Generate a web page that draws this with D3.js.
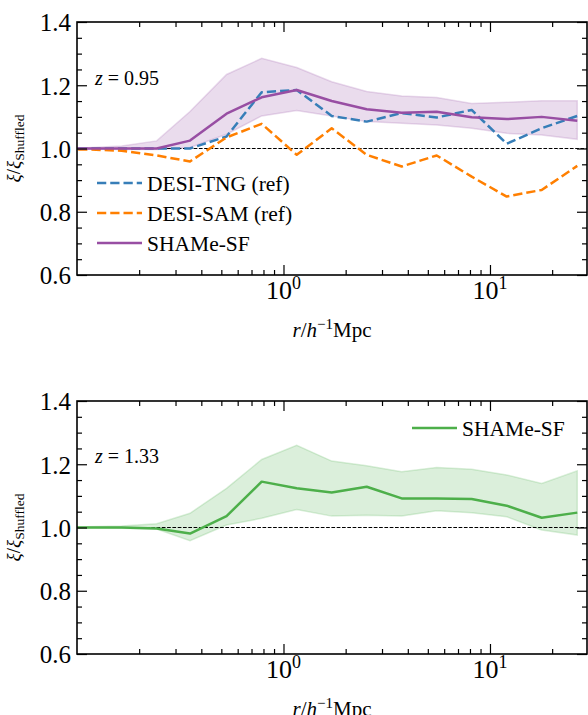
<!DOCTYPE html>
<html>
<head>
<meta charset="utf-8">
<script src="https://cdn.jsdelivr.net/npm/d3@7"></script>
<style>
  html, body { margin: 0; padding: 0; background: #fff; }
  svg { display: block; }
  svg text { font-family: "Liberation Serif", "Times New Roman", "DejaVu Serif", serif; }
</style>
</head>
<body>
<svg id="chart" width="588" height="715"></svg>
<script>
// Separation bins (h^-1 Mpc)
const r = [0.0754, 0.1114, 0.1646, 0.243, 0.3526, 0.530, 0.784, 1.159, 1.712, 2.529, 3.736, 5.521, 8.155, 12.05, 17.80, 26.47];

// z = 0.95 panel
const tng095   = [1.0, 1.0, 1.0, 1.0, 1.0, 1.038, 1.178, 1.185, 1.103, 1.085, 1.112, 1.098, 1.122, 1.015, 1.064, 1.103];
const sam095   = [0.997, 0.997, 0.993, 0.978, 0.959, 1.035, 1.078, 0.98, 1.064, 0.98, 0.943, 0.978, 0.911, 0.848, 0.869, 0.945];
const shame095 = [1.0, 1.0, 1.0, 1.0, 1.025, 1.11, 1.162, 1.185, 1.150, 1.124, 1.113, 1.116, 1.099, 1.093, 1.10, 1.088];
const hi095    = [1.0, 1.002, 1.008, 1.024, 1.117, 1.234, 1.285, 1.256, 1.211, 1.180, 1.166, 1.161, 1.142, 1.146, 1.151, 1.151];
const lo095    = [1.0, 0.998, 0.997, 0.997, 1.003, 1.045, 1.103, 1.12, 1.103, 1.085, 1.08, 1.074, 1.064, 1.048, 1.043, 1.029];

// z = 1.33 panel
const shame133 = [1.0, 1.0, 1.0, 0.997, 0.981, 1.036, 1.145, 1.124, 1.111, 1.129, 1.092, 1.092, 1.09, 1.069, 1.031, 1.047];
const hi133    = [1.0, 1.002, 1.005, 1.012, 1.045, 1.124, 1.215, 1.26, 1.21, 1.195, 1.176, 1.19, 1.184, 1.166, 1.139, 1.179];
const lo133    = [1.0, 0.999, 0.998, 0.995, 0.958, 1.008, 1.029, 1.057, 1.036, 1.039, 1.036, 1.053, 1.047, 1.034, 0.992, 0.976];

// Axis ticks
const yMajor = [0.6, 0.8, 1.0, 1.2, 1.4];
const yMinor = [0.65, 0.7, 0.75, 0.85, 0.9, 0.95, 1.05, 1.1, 1.15, 1.25, 1.3, 1.35];
const xMajor = [1, 10];
const xMinor = [0.2, 0.3, 0.4, 0.5, 0.6, 0.7, 0.8, 0.9, 2, 3, 4, 5, 6, 7, 8, 9, 20];
const xMajorExp = ["0", "1"];

const COLORS = { tng: "#377eb8", sam: "#ff7f00", purple: "#984ea3", green: "#4daf4a" };
const SERIF = "Liberation Serif, Times New Roman, DejaVu Serif, serif";

const svg = d3.select("#chart");
const X0 = 77, X1 = 587;
const x = d3.scaleLog().domain([0.1, 29.5]).range([X0, X1]);

function panel(top, bottom, id, cfg) {
  const y = d3.scaleLinear().domain([0.6, 1.4]).range([bottom, top]);
  const g = svg.append("g").attr("font-family", SERIF);

  g.append("clipPath").attr("id", id)
    .append("rect").attr("x", X0).attr("y", top).attr("width", X1 - X0).attr("height", bottom - top);
  const plot = g.append("g").attr("clip-path", `url(#${id})`);

  // shaded band
  const band = d3.area().x(d => x(d.r)).y0(d => y(d.lo)).y1(d => y(d.hi));
  const bandData = r.map((rv, i) => ({ r: rv, lo: cfg.lo[i], hi: cfg.hi[i] }));
  plot.append("path").datum(bandData).attr("d", band)
    .attr("fill", cfg.color).attr("fill-opacity", 0.2)
    .attr("stroke", cfg.color).attr("stroke-opacity", 0.2).attr("stroke-width", 1.5);

  // reference line at unity
  plot.append("line").attr("x1", X0).attr("x2", X1).attr("y1", y(1)).attr("y2", y(1))
    .attr("stroke", "#000").attr("stroke-width", 1.1).attr("stroke-dasharray", "3.7,1.6");

  const line = d3.line().x((d, i) => x(r[i])).y(d => y(d));
  cfg.series.forEach(s => {
    plot.append("path").datum(s.values).attr("d", line)
      .attr("fill", "none").attr("stroke", s.color).attr("stroke-width", 2.5)
      .attr("stroke-dasharray", s.dash || null).attr("stroke-linejoin", "round");
  });

  // ticks (inward, on all four sides)
  const clean = sel => {
    sel.select(".domain").remove();
    sel.attr("font-family", SERIF);
    sel.selectAll("line").attr("stroke", "#000").attr("stroke-width", 1.2);
  };

  g.append("g").attr("transform", `translate(${X0},0)`)
    .call(d3.axisLeft(y).tickValues(yMinor).tickSize(-5).tickFormat("")).call(clean);
  g.append("g").attr("transform", `translate(${X1},0)`)
    .call(d3.axisRight(y).tickValues(yMinor).tickSize(-5).tickFormat("")).call(clean);
  g.append("g").attr("transform", `translate(${X1},0)`)
    .call(d3.axisRight(y).tickValues(yMajor).tickSize(-10).tickFormat("")).call(clean);
  const yl = g.append("g").attr("transform", `translate(${X0},0)`)
    .call(d3.axisLeft(y).tickValues(yMajor).tickSize(-10).tickPadding(6).tickFormat(d3.format(".1f")))
    .call(clean);
  yl.attr("font-size", 25);
  yl.selectAll("text").attr("font-size", 25).attr("font-family", SERIF).attr("fill", "#000").attr("dy", "0.35em");

  g.append("g").attr("transform", `translate(0,${bottom})`)
    .call(d3.axisBottom(x).tickValues(xMinor).tickSize(-5).tickFormat("")).call(clean);
  g.append("g").attr("transform", `translate(0,${top})`)
    .call(d3.axisTop(x).tickValues(xMinor).tickSize(-5).tickFormat("")).call(clean);
  g.append("g").attr("transform", `translate(0,${bottom})`)
    .call(d3.axisBottom(x).tickValues(xMajor).tickSize(-10).tickFormat("")).call(clean);
  g.append("g").attr("transform", `translate(0,${top})`)
    .call(d3.axisTop(x).tickValues(xMajor).tickSize(-10).tickFormat("")).call(clean);

  // x tick labels 10^n
  xMajor.forEach((v, i) => {
    const t = g.append("text").attr("x", x(v)).attr("y", bottom + 23.5)
      .attr("text-anchor", "middle").attr("font-size", 26).attr("font-family", SERIF).attr("fill", "#000");
    t.append("tspan").text("10");
    t.append("tspan").attr("font-size", 18).attr("dy", -10).text(xMajorExp[i]);
  });

  // frame
  g.append("rect").attr("x", X0).attr("y", top).attr("width", X1 - X0).attr("height", bottom - top)
    .attr("fill", "none").attr("stroke", "#000").attr("stroke-width", 1.6);

  // y label
  const ylab = g.append("text").attr("transform", `translate(20,${(top + bottom) / 2}) rotate(-90)`)
    .attr("text-anchor", "middle").attr("font-size", 19).attr("font-family", SERIF).attr("fill", "#000");
  ylab.append("tspan").attr("font-style", "italic").text("ξ");
  ylab.append("tspan").text("/");
  ylab.append("tspan").attr("font-style", "italic").text("ξ");
  ylab.append("tspan").attr("font-size", 13.5).attr("dy", 4).text("Shuffled");

  // x label
  const xlab = g.append("text").attr("x", (X0 + X1) / 2).attr("y", bottom + 62)
    .attr("text-anchor", "middle").attr("font-size", 21).attr("font-family", SERIF).attr("fill", "#000");
  xlab.append("tspan").attr("font-style", "italic").text("r");
  xlab.append("tspan").text("/");
  xlab.append("tspan").attr("font-style", "italic").text("h");
  xlab.append("tspan").attr("font-size", 15).attr("dy", -8).text("\u22121");
  xlab.append("tspan").attr("dy", 8).text("Mpc");

  // redshift annotation
  const zt = g.append("text").attr("x", 95).attr("y", top + cfg.zOffset)
    .attr("font-size", 20).attr("font-family", SERIF).attr("fill", "#000");
  zt.append("tspan").attr("font-style", "italic").text("z");
  zt.append("tspan").text(" = " + cfg.z);

  // legend
  cfg.legend.forEach(L => {
    g.append("line").attr("x1", L.x).attr("x2", L.x + 45).attr("y1", L.y).attr("y2", L.y)
      .attr("stroke", L.color).attr("stroke-width", 2.5).attr("stroke-dasharray", L.dash || null);
    g.append("text").attr("x", L.x + 50).attr("y", L.y).attr("dy", "0.35em")
      .attr("font-size", 21.5).attr("font-family", SERIF).attr("fill", "#000").text(L.label);
  });
}

panel(22, 275, "clipTop", {
  color: COLORS.purple, hi: hi095, lo: lo095, z: "0.95", zOffset: 63,
  series: [
    { values: tng095, color: COLORS.tng, dash: "9.25,4" },
    { values: sam095, color: COLORS.sam, dash: "9.25,4" },
    { values: shame095, color: COLORS.purple }
  ],
  legend: [
    { x: 97, y: 183, color: COLORS.tng, dash: "9.25,4", label: "DESI-TNG (ref)" },
    { x: 97, y: 213, color: COLORS.sam, dash: "9.25,4", label: "DESI-SAM (ref)" },
    { x: 97, y: 243, color: COLORS.purple, label: "SHAMe-SF" }
  ]
});

panel(401, 654, "clipBottom", {
  color: COLORS.green, hi: hi133, lo: lo133, z: "1.33", zOffset: 62,
  series: [
    { values: shame133, color: COLORS.green }
  ],
  legend: [
    { x: 412, y: 428, color: COLORS.green, label: "SHAMe-SF" }
  ]
});
</script>
</body>
</html>
